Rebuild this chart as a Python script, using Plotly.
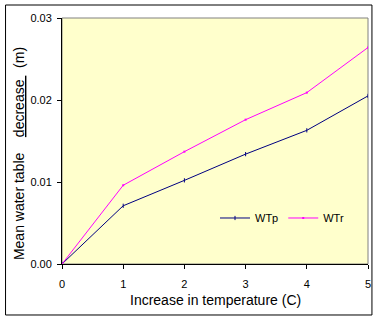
import plotly.graph_objects as go

# Temperature increase (C) and mean water table decrease (m)
temperature = [0, 1, 2, 3, 4, 5]
wtp = [0.0, 0.0071, 0.0102, 0.0134, 0.0163, 0.0205]
wtr = [0.0, 0.0096, 0.0137, 0.0176, 0.0209, 0.0264]

y_ticks = [0.0, 0.01, 0.02, 0.03]
y_tick_labels = ["0.00", "0.01", "0.02", "0.03"]
x_ticks = [0, 1, 2, 3, 4, 5]

FONT = "Liberation Sans, Arial, sans-serif"

fig = go.Figure()
fig.add_trace(go.Scatter(
    x=temperature, y=wtp, name="WTp", mode="lines+markers",
    line=dict(color="#000080", width=1),
    marker=dict(symbol="line-ns", size=3, line=dict(color="#000080", width=1), color="#000080"),
))
fig.add_trace(go.Scatter(
    x=temperature, y=wtr, name="WTr", mode="lines+markers",
    line=dict(color="#FF00FF", width=1),
    marker=dict(symbol="square", size=2, color="#FF00FF"),
))

fig.update_layout(
    width=382, height=322,
    margin=dict(l=62, r=11, t=18, b=58),
    paper_bgcolor="white",
    plot_bgcolor="#FFFFCC",
    font=dict(family=FONT, size=11, color="black"),
    showlegend=True,
    legend=dict(
        orientation="h", x=0.5, y=0.187, xanchor="left", yanchor="middle",
        bgcolor="rgba(0,0,0,0)", font=dict(size=11, family=FONT),
        itemwidth=30, tracegroupgap=0,
    ),
    xaxis=dict(
        range=[0, 5], tickvals=x_ticks, showgrid=False, zeroline=False,
        showline=True, linecolor="black", linewidth=1,
        ticks="outside", ticklen=4, tickcolor="black",
        ticklabelstandoff=6,
        tickfont=dict(size=11, family=FONT),
    ),
    yaxis=dict(
        range=[0, 0.03], tickvals=y_ticks, ticktext=y_tick_labels,
        showgrid=False, zeroline=False,
        showline=True, linecolor="black", linewidth=1,
        ticks="outside", ticklen=4, tickcolor="black",
        ticklabelstandoff=3,
        tickfont=dict(size=11, family=FONT),
    ),
    shapes=[
        # grey frame on top/right of the plotting area
        dict(type="rect", xref="paper", yref="paper", x0=0, x1=1, y0=0, y1=1,
             line=dict(color="#808080", width=1), layer="below"),
        # outer chart border
        dict(type="rect", xref="paper", yref="paper",
             x0=-0.1845, x1=1.0129, y0=-0.2073, y1=1.0528,
             line=dict(color="black", width=1)),
    ],
    annotations=[
        dict(text="Mean water table\u00a0\u00a0\u00a0\u00a0<u>decrease\u00a0</u>\u00a0\u00a0(m)",
             xref="paper", yref="paper", x=-0.142, y=0.449,
             textangle=-90, showarrow=False, xanchor="center", yanchor="middle",
             font=dict(size=14, family=FONT)),
        dict(text="Increase in temperature (C)",
             xref="paper", yref="paper", x=(217.5 - 62) / 309, y=(264 - 300) / 246,
             showarrow=False, xanchor="center", yanchor="middle",
             font=dict(size=14, family=FONT)),
    ],
)

fig.write_html("out.html")
